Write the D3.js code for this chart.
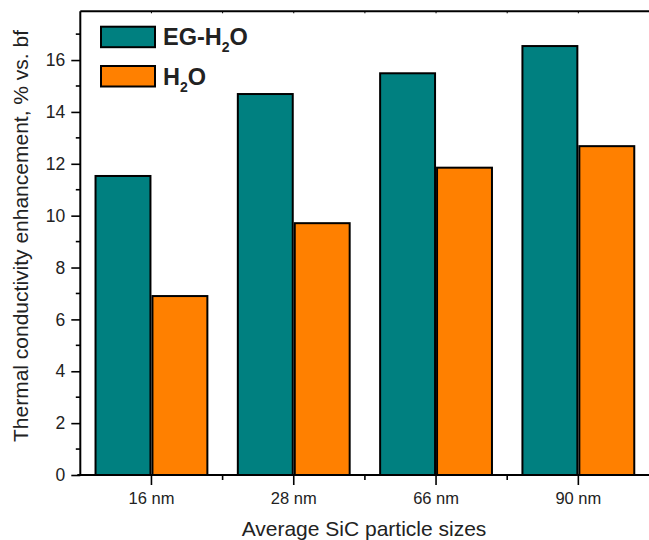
<!DOCTYPE html>
<html>
<head>
<meta charset="utf-8">
<script src="https://cdn.jsdelivr.net/npm/d3@7"></script>
<style>
  body { margin: 0; background: #fff; }
  svg { display: block; font-family: "Liberation Sans", Arial, sans-serif; }
</style>
</head>
<body>
<div id="chart"></div>
<script>
var sizes = ['16 nm', '28 nm', '66 nm', '90 nm'];
var egH2o = [11.53, 14.69, 15.49, 16.54];
var h2o = [6.9, 9.71, 11.85, 12.68];
var yTicks = [0, 2, 4, 6, 8, 10, 12, 14, 16];
var seriesNames = ['EG-H2O', 'H2O'];
var colors = ['#008080', '#ff8000'];

chartMain();

function chartMain() {
  var W = 649, H = 540;
  var left = 80.3, right = 649.5, top = 11.3, bottom = 475;

  var svg = d3.select('#chart').append('svg')
    .attr('width', W)
    .attr('height', H);

  var x = d3.scaleBand().domain(sizes).range([left, right]);
  var y = d3.scaleLinear().domain([0, 17.88]).range([bottom, top]);

  var groupW = x.bandwidth() * 0.8;
  var barW = groupW / 2;

  var rows = sizes.map(function(s, i) {
    return { size: s, vals: [egH2o[i], h2o[i]] };
  });

  // bars
  var g = svg.selectAll('g.grp')
    .data(rows)
    .enter().append('g')
    .attr('class', 'grp');

  g.selectAll('rect')
    .data(function(d) { return d.vals.map(function(v, j) { return { size: d.size, v: v, j: j }; }); })
    .enter().append('rect')
    .attr('x', function(d) {
      return x(d.size) + x.bandwidth() / 2 - barW + d.j * barW + 1;
    })
    .attr('y', function(d) { return y(d.v); })
    .attr('width', barW - 2)
    .attr('height', function(d) { return bottom - y(d.v); })
    .attr('fill', function(d) { return colors[d.j]; })
    .attr('stroke', '#000')
    .attr('stroke-width', 2);

  // y axis
  var yAxis = d3.axisLeft(y).tickValues(yTicks).tickSize(9).tickSizeOuter(0).tickPadding(6);
  var ya = svg.append('g').attr('transform', 'translate(' + left + ',0)').call(yAxis)
    .attr('font-family', null).attr('font-size', null);
  ya.select('.domain').attr('stroke-width', 2).attr('d', 'M0,' + top + 'V' + bottom);
  ya.selectAll('.tick line').attr('stroke-width', 1.6);
  ya.selectAll('text').style('font-size', '17.5px').attr('fill', '#222');

  var minorY = d3.range(1, 18, 2);
  ya.selectAll('.minor')
    .data(minorY)
    .enter().append('line')
    .attr('x1', -4.5).attr('x2', 0)
    .attr('y1', function(d) { return y(d); })
    .attr('y2', function(d) { return y(d); })
    .attr('stroke', '#000').attr('stroke-width', 1.6);

  // x axis
  var xAxis = d3.axisBottom(x).tickSize(10).tickSizeOuter(0).tickPadding(7.5);
  var xa = svg.append('g').attr('transform', 'translate(0,' + bottom + ')').call(xAxis)
    .attr('font-family', null).attr('font-size', null);
  xa.select('.domain').attr('stroke-width', 2).attr('d', 'M' + (left - 3) + ',0H' + right);
  xa.selectAll('.tick line').attr('stroke-width', 1.6);
  xa.selectAll('text').style('font-size', '16.5px').attr('fill', '#222');

  var minorX = sizes.slice(1);
  xa.selectAll('.minor')
    .data(minorX)
    .enter().append('line')
    .attr('x1', function(d) { return x(d); })
    .attr('x2', function(d) { return x(d); })
    .attr('y1', 0).attr('y2', 5)
    .attr('stroke', '#000').attr('stroke-width', 1.6);

  // top frame with small ticks
  svg.append('line')
    .attr('x1', left).attr('x2', right)
    .attr('y1', top).attr('y2', top)
    .attr('stroke', '#000').attr('stroke-width', 2);
  svg.selectAll('.topTick')
    .data(sizes.concat(minorX))
    .enter().append('line')
    .attr('x1', function(d, i) { return i < sizes.length ? x(d) + x.bandwidth() / 2 : x(d); })
    .attr('x2', function(d, i) { return i < sizes.length ? x(d) + x.bandwidth() / 2 : x(d); })
    .attr('y1', top).attr('y2', top + 2)
    .attr('stroke', '#000').attr('stroke-width', 1);

  // legend
  var leg = svg.append('g');
  seriesNames.forEach(function(name, i) {
    var ly = 26.7 + i * 39.3;
    leg.append('rect')
      .attr('x', 101).attr('y', ly)
      .attr('width', 54).attr('height', 20.5)
      .attr('fill', colors[i])
      .attr('stroke', '#000').attr('stroke-width', 2);
    var t = leg.append('text')
      .attr('x', 163).attr('y', ly + 18.5)
      .style('font-size', '23.5px').style('font-weight', 'bold')
      .attr('fill', '#222');
    var parts = name.split('2');
    t.append('tspan').text(parts[0]);
    t.append('tspan').text('2').style('font-size', '14px').attr('dy', 7);
    t.append('tspan').text(parts[1]).attr('dy', -7);
  });

  // axis titles
  svg.append('text')
    .attr('transform', 'translate(28,236) rotate(-90)')
    .attr('text-anchor', 'middle')
    .style('font-size', '21px')
    .attr('fill', '#222')
    .text('Thermal conductivity enhancement, % vs. bf');

  svg.append('text')
    .attr('x', 364)
    .attr('y', 536)
    .attr('text-anchor', 'middle')
    .style('font-size', '21px')
    .attr('fill', '#222')
    .text('Average SiC particle sizes');
}
</script>
</body>
</html>
